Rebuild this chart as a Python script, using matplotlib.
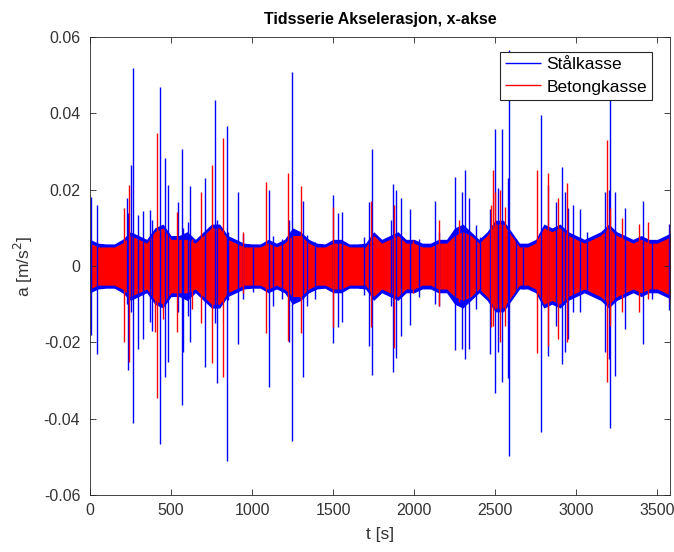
import matplotlib
matplotlib.use('Agg')
import matplotlib.pyplot as plt
import numpy as np
from matplotlib.ticker import FuncFormatter

# envelope of the dense signal, sampled every 50 s (half amplitude, m/s^2)
band_t = np.arange(0, 3601, 50)
stal_band = [0.007, 0.006, 0.0058, 0.0058, 0.007, 0.009, 0.008, 0.007, 0.010, 0.011,
             0.008, 0.008, 0.009, 0.007, 0.009, 0.011, 0.011, 0.008, 0.007, 0.006,
             0.0058, 0.0058, 0.007, 0.006, 0.007, 0.010, 0.009, 0.007, 0.006, 0.0058,
             0.007, 0.007, 0.0058, 0.0058, 0.006, 0.009, 0.007, 0.008, 0.009, 0.007,
             0.007, 0.006, 0.006, 0.007, 0.007, 0.010, 0.011, 0.009, 0.007, 0.009,
             0.012, 0.012, 0.009, 0.006, 0.006, 0.007, 0.011, 0.010, 0.011, 0.009,
             0.008, 0.007, 0.008, 0.009, 0.011, 0.009, 0.008, 0.007, 0.008, 0.007,
             0.007, 0.008, 0.009]
betong_band = [0.006, 0.005, 0.005, 0.005, 0.006, 0.008, 0.007, 0.006, 0.009, 0.010,
               0.007, 0.007, 0.007, 0.006, 0.008, 0.010, 0.010, 0.007, 0.006, 0.005,
               0.005, 0.005, 0.006, 0.005, 0.006, 0.008, 0.008, 0.006, 0.005, 0.005,
               0.006, 0.006, 0.005, 0.005, 0.005, 0.008, 0.006, 0.007, 0.008, 0.006,
               0.006, 0.005, 0.005, 0.006, 0.006, 0.008, 0.009, 0.008, 0.006, 0.008,
               0.011, 0.011, 0.008, 0.005, 0.005, 0.006, 0.010, 0.009, 0.010, 0.008,
               0.007, 0.006, 0.007, 0.008, 0.010, 0.008, 0.007, 0.006, 0.007, 0.006,
               0.006, 0.007, 0.008]

# individual peaks: time, max, min
stal_t = [5, 41, 226, 237, 250, 267, 296, 330, 368, 380, 432, 463, 481, 543, 566,
          574, 607, 617, 710, 772, 782, 844, 854, 911, 946, 1008, 1105, 1132, 1183,
          1226, 1245, 1313, 1340, 1391, 1500, 1530, 1556, 1689, 1720, 1739, 1856,
          1871, 1890, 1918, 1975, 2031, 2130, 2154, 2253, 2294, 2315, 2340, 2381,
          2403, 2470, 2500, 2516, 2541, 2578, 2582, 2630, 2671, 2782, 2827, 2877,
          2912, 2928, 2949, 2981, 3020, 3064, 3177, 3200, 3210, 3239, 3300, 3414,
          3465, 3575]
stal_hi = [0.018, 0.016, 0.0177, 0.014, 0.0265, 0.052, 0.0133, 0.0145, 0.0146, 0.012,
           0.047, 0.0283, 0.0212, 0.0168, 0.0307, 0.010, 0.0116, 0.021, 0.023, 0.0435,
           0.012, 0.0367, 0.0089, 0.0195, 0.0085, 0.005, 0.020, 0.008, 0.0072,
           0.012, 0.0507, 0.017, 0.0081, 0.0063, 0.0186, 0.014, 0.0142, 0.0076,
           0.0168, 0.0307, 0.012, 0.0215, 0.020, 0.0177, 0.015, 0.0072, 0.017, 0.009,
           0.0234, 0.0195, 0.0252, 0.0177, 0.0107, 0.0076, 0.015, 0.0359, 0.0204,
           0.0359, 0.023, 0.0565, 0.0072, 0.005, 0.0396, 0.0212, 0.0168, 0.026,
           0.0195, 0.0151, 0.016, 0.015, 0.0089, 0.0195, 0.020, 0.050, 0.0195,
           0.0151, 0.017, 0.0063, 0.011]
stal_lo = [-0.018, -0.023, -0.010, -0.0272, -0.012, -0.041, -0.0218, -0.019, -0.0147,
           -0.017, -0.0465, -0.029, -0.025, -0.012, -0.0364, -0.0226, -0.013, -0.020,
           -0.0265, -0.015, -0.0305, -0.051, -0.009, -0.0203, -0.0086, -0.0068,
           -0.0318, -0.0104, -0.0086, -0.020, -0.0458, -0.029, -0.0104, -0.0086,
           -0.0202, -0.016, -0.0147, -0.0077, -0.0209, -0.0286, -0.0104, -0.0277,
           -0.024, -0.0182, -0.0155, -0.008, -0.010, -0.0104, -0.022, -0.0218,
           -0.0243, -0.0218, -0.0112, -0.0068, -0.023, -0.0333, -0.0226, -0.0303,
           -0.0293, -0.0498, -0.0068, -0.006, -0.0434, -0.0235, -0.0156, -0.0257,
           -0.0226, -0.0191, -0.0121, -0.012, -0.0068, -0.0226, -0.0243, -0.0425,
           -0.0288, -0.0165, -0.0203, -0.0086, -0.0116]

betong_t = [208, 241, 399, 412, 451, 535, 628, 685, 751, 822, 946, 1085, 1224, 1300,
            1498, 1735, 1875, 1990, 2154, 2278, 2475, 2488, 2500, 2530, 2558, 2757,
            2825, 2887, 2942, 3189, 3208, 3280, 3390, 3444, 3580]
betong_hi = [0.0151, 0.0212, 0.0089, 0.0349, 0.0094, 0.0142, 0.007, 0.0195, 0.0265,
             0.0335, 0.0089, 0.022, 0.0243, 0.021, 0.0155, 0.017, 0.016, 0.0067,
             0.012, 0.012, 0.016, 0.0252, 0.0195, 0.020, 0.0155, 0.0252, 0.0243,
             0.0177, 0.0217, 0.033, 0.0151, 0.0125, 0.011, 0.0116, 0.011]
betong_lo = [-0.020, -0.025, -0.0174, -0.0346, -0.0139, -0.0174, -0.0112, -0.015,
             -0.0255, -0.029, -0.007, -0.0175, -0.0196, -0.0176, -0.016, -0.016,
             -0.0215, -0.007, -0.0104, -0.0095, -0.016, -0.0156, -0.0112, -0.020,
             -0.0156, -0.0228, -0.0209, -0.0191, -0.020, -0.0303, -0.0156, -0.0121,
             -0.012, -0.0086, -0.010]

plt.rcParams['font.family'] = ['Liberation Sans', 'DejaVu Sans']
plt.rcParams['font.size'] = 11.5

fig = plt.figure(figsize=(6.74, 5.52), dpi=100)
ax = fig.add_axes([0.1335, 0.103, 0.861, 0.83])

blue = (0, 0, 1)
red = (1, 0, 0)

sb = np.array(stal_band)
rb = np.array(betong_band)
ax.fill_between(band_t, -sb, sb, color=blue, lw=0)
ax.vlines(stal_t, stal_lo, stal_hi, color=blue, lw=1.0, label='Stålkasse')
ax.fill_between(band_t, -rb, rb, color=red, lw=0)
ax.vlines(betong_t, betong_lo, betong_hi, color=red, lw=1.0, label='Betongkasse')

ax.set_xlim(0, 3580)
ax.set_ylim(-0.06, 0.06)
ax.set_xticks(np.arange(0, 3501, 500))
ax.set_yticks(np.arange(-0.06, 0.061, 0.02))
ax.yaxis.set_major_formatter(FuncFormatter(lambda v, p: '%g' % round(v, 3)))
ax.tick_params(direction='in', top=True, right=True, length=4, colors='0.15',
               labelcolor='0.2', width=0.6)
ax.tick_params(axis='y', pad=7)
ax.tick_params(axis='x', pad=6)
for s in ax.spines.values():
    s.set_color('0.15')
    s.set_linewidth(0.6)

ax.set_title('Tidsserie Akselerasjon, x-akse', fontweight='bold', fontsize=11.5,
             color='black', pad=9)
ax.set_xlabel('t [s]', color='0.2', fontsize=12.5, labelpad=6)
ax.set_ylabel('a [m/s$^2$]', color='0.2', fontsize=12.5, labelpad=6)

leg = ax.legend(loc='upper right', bbox_to_anchor=(0.969, 0.967), fancybox=False,
                edgecolor='0.15', framealpha=1, borderaxespad=0.0, fontsize=12.5,
                handlelength=2.1, handletextpad=0.3, borderpad=0.3,
                labelspacing=0.4)
leg.get_frame().set_linewidth(0.8)

fig.savefig('out.png', dpi=100)
